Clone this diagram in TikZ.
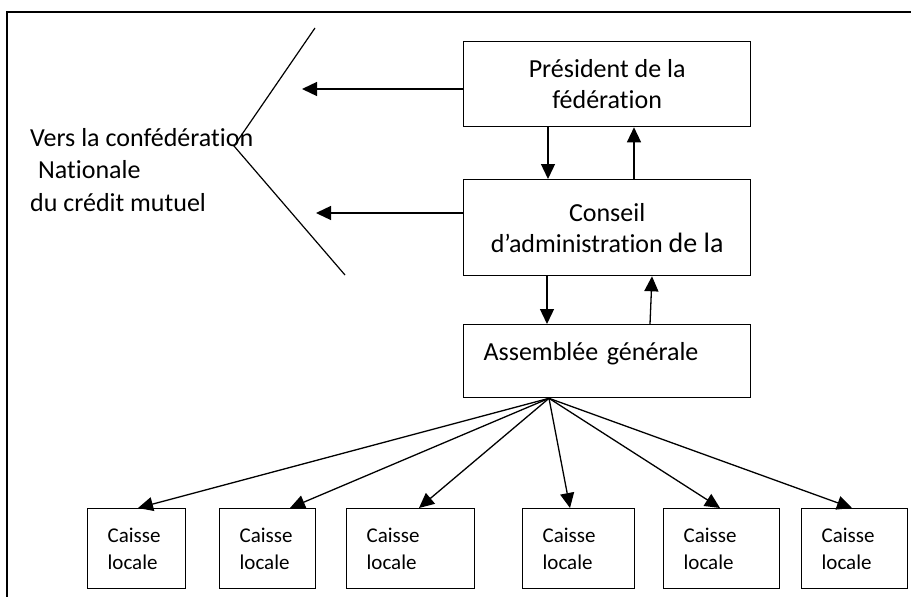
\documentclass[tikz,border=0pt]{standalone}
\usepackage{fontspec}
\setmainfont{Carlito}[Ligatures=NoCommon]
\usetikzlibrary{arrows.meta}

\begin{document}
\begin{tikzpicture}[
        % 全局設定:1 單位 = 1pt,y 向下
        x=1pt, y=-1pt,
        % 方框樣式
        box/.style={
            draw=black,
            line width=1.3pt,
            align=center,
            inner sep=0pt,
            anchor=north west,
            font=\fontsize{26}{31}\selectfont
        },
        % 地方金庫樣式
        caisse/.style={
            draw=black,
            line width=1.3pt,
            align=left,
            inner xsep=20pt,
            inner ysep=0pt,
            minimum height=80pt,
            anchor=north west,
            font=\fontsize{21}{26.5}\selectfont
        },
        % 箭頭樣式
        fleche/.style={
            draw=black,
            line width=1.3pt,
            -{Triangle[length=15pt,width=14pt]}
        },
        % 斜線與外框
        trait/.style={draw=black, line width=1.2pt},
        cadre/.style={draw=black, line width=1.5pt}
    ]
        \useasboundingbox (0,0) rectangle (911,597);

        % ==========================
        % 外框 (只有上緣與左緣)
        % ==========================
        \draw[cadre] (7,597) -- (7,12) -- (911,12);

        % ==========================
        % 中間三個方框
        % ==========================
        \node[box, minimum width=287pt, minimum height=85pt] (pres) at (463,41)
            {Président de la\\fédération};
        \node[box, minimum width=287pt, minimum height=96pt] (conseil) at (463,179)
            {Conseil\\d’administration {\fontsize{28}{31}\selectfont de la}};
        \node[box, minimum width=287pt, minimum height=73pt, align=left,
              inner xsep=20pt, text width=247pt, text height=18pt, text depth=19pt] (assemblee) at (463,324)
            {Assemblée générale};

        % 上下箭頭
        \draw[fleche] ([xshift=85pt]pres.south west) -- ([xshift=85pt]conseil.north west);
        \draw[fleche] ([xshift=171pt]conseil.north west) -- ([xshift=171pt]pres.south west);
        \draw[fleche] ([xshift=84pt]conseil.south west) -- ([xshift=84pt]assemblee.north west);
        \draw[fleche] ([xshift=187pt]assemblee.north west) -- ([xshift=189pt]conseil.south west);

        % ==========================
        % 左側:往全國聯合會
        % ==========================
        \coordinate (v1) at (315,28);
        \coordinate (v2) at (234,146);
        \coordinate (v3) at (345,275);
        \draw[trait] (v1) -- (v2) -- (v3);

        \node[anchor=north west, align=left, inner sep=0pt,
              font=\fontsize{26}{32.5}\selectfont] (confed) at (30,128)
            {Vers la confédération\\\hspace{8pt}Nationale\\du crédit mutuel};

        \coordinate (t1) at (302,89);
        \coordinate (t2) at (316,213);
        \draw[fleche] (pres.west |- t1) -- (t1);
        \draw[fleche] (conseil.west |- t2) -- (t2);

        % ==========================
        % 下方:六個地方金庫
        % ==========================
        \coordinate (fan) at ([xshift=86pt]assemblee.south west);
        % x 位置 / 寬度 / 箭頭落點
        \foreach \i/\x/\w/\t in {1/87/98/138, 2/219/96/290, 3/346/128/419,
                                 4/522/112/570, 5/663/116/720, 6/801/106/852} {
            \pgfmathsetmacro\tw{\w-40}
            \pgfmathsetmacro\dx{\t-\x}
            \node[caisse, minimum width=\w pt, text width=\tw pt] (caisse\i) at (\x,508)
                {Caisse\\locale};
            \draw[fleche] (fan) -- ([xshift=\dx pt]caisse\i.north west);
        }

    \end{tikzpicture}
\end{document}
